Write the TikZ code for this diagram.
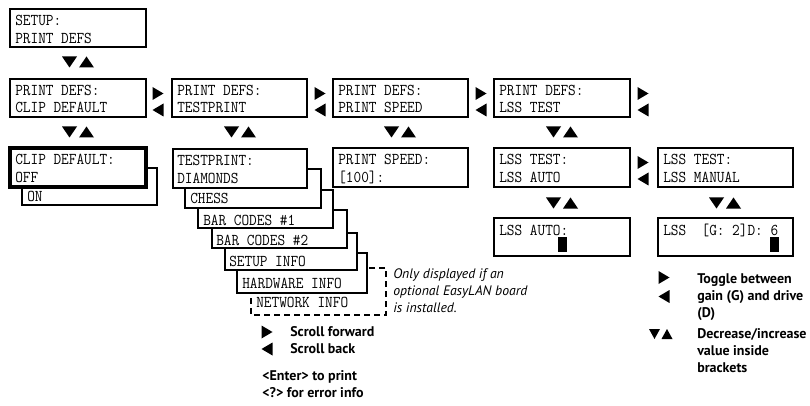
\documentclass[tikz,border=0pt]{standalone}
\usepackage{fontspec}
\setsansfont{PT Sans}
\newcommand\lcd[1]{\scalebox{0.9}[1]{\ttfamily\fontsize{12.4}{14}\selectfont #1}}
\newcommand\legb{\sffamily\bfseries\fontsize{10.5}{12}\selectfont}
\newcommand\legi{\sffamily\itshape\fontsize{10.3}{12}\selectfont}
\begin{document}
\begin{tikzpicture}[x=0.75pt,y=-0.75pt,
  box/.style={draw=black, line width=1.1pt, fill=white},
  thickbox/.style={draw=black, line width=2.6pt, fill=white},
  dashbox/.style={draw=black, line width=1.1pt, dash pattern=on 4.5pt off 3pt},
  lt/.style={anchor=base west, inner sep=0pt},
  lb/.style={anchor=base west, inner sep=0pt, font=\legb},
  li/.style={anchor=base west, inner sep=0pt, font=\legi},
  dnup/.pic={\fill (-16,-5.5) -- (-1,-5.5) -- (-8.5,5.5) -- cycle;
             \fill (1,5.5) -- (16,5.5) -- (8.5,-5.5) -- cycle;},
  dnupsmall/.pic={\fill (-11,-5) -- (0,-5) -- (-5.5,5) -- cycle;
             \fill (1.5,5) -- (12.5,5) -- (7,-5) -- cycle;},
  fwd/.pic={\fill (-5.5,-6.5) -- (5.5,0) -- (-5.5,6.5) -- cycle;},
  back/.pic={\fill (5.5,-6.5) -- (-5.5,0) -- (5.5,6.5) -- cycle;}
]
\useasboundingbox (0,0) rectangle (810,406);

% ---- SETUP
\draw[box] (10,9) rectangle (146,47);
\node[lt] (setupA) at (15,26) {\lcd{SETUP:}};
\node[lt] (setupB) at (15,44) {\lcd{PRINT DEFS}};
\pic at (78,62) {dnup};

% ---- Row 2
\draw[box] (10,79) rectangle (146,117);
\node[lt] (r2aA) at (15,96) {\lcd{PRINT DEFS:}};
\node[lt] (r2aB) at (15,113) {\lcd{CLIP DEFAULT}};
\draw[box] (172,79) rectangle (307,117);
\node[lt] (r2bA) at (177,96) {\lcd{PRINT DEFS:}};
\node[lt] (r2bB) at (177,113) {\lcd{TESTPRINT}};
\draw[box] (333,79) rectangle (468,117);
\node[lt] (r2cA) at (338,96) {\lcd{PRINT DEFS:}};
\node[lt] (r2cB) at (338,113) {\lcd{PRINT SPEED}};
\draw[box] (494,79) rectangle (630,117);
\node[lt] (r2dA) at (499,96) {\lcd{PRINT DEFS:}};
\node[lt] (r2dB) at (499,113) {\lcd{LSS TEST}};
\foreach \x in {158,320,481,643}{
  \pic at (\x,93.5) {fwd};
  \pic at (\x,110) {back};
}
\foreach \x in {78,240,400,562}{\pic at (\x,132) {dnup};}

% ---- CLIP DEFAULT
\draw[box] (22,168) rectangle (157,205);
\node[lt] (on) at (27,201) {\lcd{ON}};
\draw[thickbox] (10,148) rectangle (146,187);
\node[lt] (clipA) at (15,165) {\lcd{CLIP DEFAULT:}};
\node[lt] (clipB) at (15,183) {\lcd{OFF}};

% ---- TESTPRINT stack
\fill[white] (251,268) rectangle (386,315);
\draw[dashbox] (251,268) rectangle (386,315);
\node[lt] (netw) at (256,307) {\lcd{NETWORK INFO}};
\draw[box] (237,253) rectangle (367,293);
\node[lt] (hard) at (242,288) {\lcd{HARDWARE INFO}};
\draw[box] (225,233) rectangle (357,270);
\node[lt] (sinfo) at (229,266) {\lcd{SETUP INFO}};
\draw[box] (212,210) rectangle (347,248);
\node[lt] (bar2) at (216,245) {\lcd{BAR CODES \#2}};
\draw[box] (198,190) rectangle (333,228);
\node[lt] (bar1) at (203,225) {\lcd{BAR CODES \#1}};
\draw[box] (185,169) rectangle (321,208);
\node[lt] (chess) at (190,204) {\lcd{CHESS}};
\draw[box] (173,149) rectangle (307,188);
\node[lt] (tpA) at (177,166) {\lcd{TESTPRINT:}};
\node[lt] (tpB) at (177,184) {\lcd{DIAMONDS}};

% ---- PRINT SPEED
\draw[box] (333,148) rectangle (468,187);
\node[lt] (psA) at (338,165) {\lcd{PRINT SPEED:}};
\node[lt] (psB) at (338,183) {\lcd{[100]:}};

% ---- LSS TEST
\draw[box] (494,148) rectangle (630,187);
\node[lt] (ltA) at (499,165) {\lcd{LSS TEST:}};
\node[lt] (ltB) at (499,183) {\lcd{LSS AUTO}};
\pic at (643,162.5) {fwd};
\pic at (643,179) {back};
\draw[box] (658,148) rectangle (793,187);
\node[lt] (lmA) at (663,165) {\lcd{LSS TEST:}};
\node[lt] (lmB) at (663,183) {\lcd{LSS MANUAL}};
\pic at (562,203) {dnup};
\pic at (725,203) {dnup};

\draw[box] (494,218) rectangle (630,256);
\node[lt] (laA) at (499,235) {\lcd{LSS AUTO:}};
\fill (558,237) rectangle (567,252);
\draw[box] (658,218) rectangle (793,256);
\node[lt] (lgA) at (663,235) {\lcd{LSS\ \ [G: 2]D: 6}};
\fill (770,237) rectangle (779,252);

% ---- annotation
\node[li] (noteA) at (393,278) {Only displayed if an};
\node[li] (noteB) at (393,295) {optional EasyLAN board};
\node[li] (noteC) at (393,312) {is installed.};

% ---- legend bottom
\pic at (267,332) {fwd};
\pic at (267,349) {back};
\node[lb] (sf) at (290,336) {Scroll forward};
\node[lb] (sb) at (290,353) {Scroll back};
\node[lb] (ep) at (262,380) {<Enter> to print};
\node[lb] (ei) at (262,397) {<?> for error info};

% ---- legend right
\pic at (664,277.5) {fwd};
\pic at (664,296.5) {back};
\node[lb] (tg1) at (697,283) {Toggle between};
\node[lb] (tg2) at (697,300) {gain (G) and drive};
\node[lb] (tg3) at (697,317) {(D)};
\pic at (660,334) {dnupsmall};
\node[lb] (dc1) at (697,338) {Decrease/increase};
\node[lb] (dc2) at (697,355) {value inside};
\node[lb] (dc3) at (697,372) {brackets};
\end{tikzpicture}
\end{document}
